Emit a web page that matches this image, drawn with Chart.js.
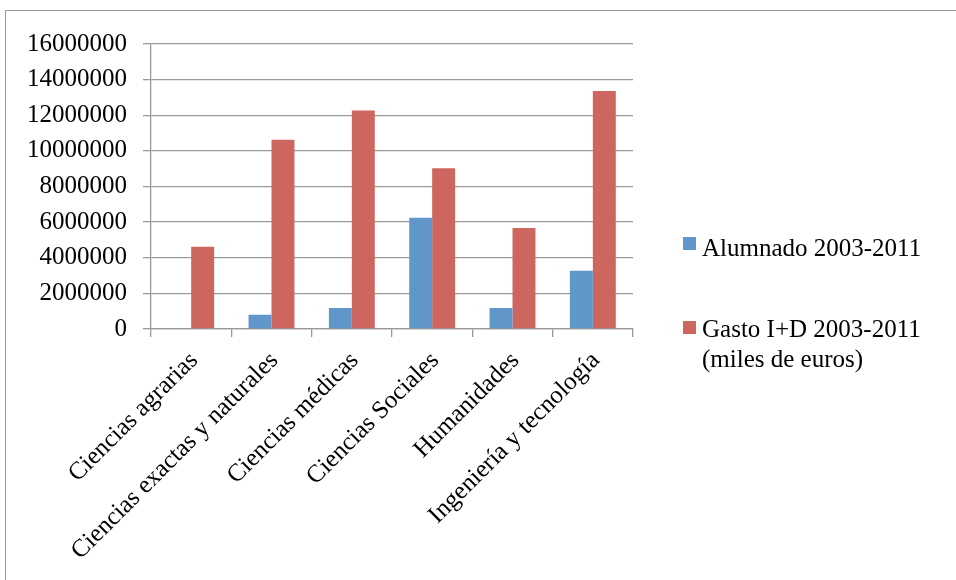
<!DOCTYPE html>
<html><head><meta charset="utf-8">
<script src="https://cdn.jsdelivr.net/npm/chart.js@4"></script>
<style>
html,body{margin:0;padding:0;background:#fff;overflow:hidden;}
#wrap{position:relative;width:956px;height:580px;overflow:hidden;}
#frame{position:absolute;left:5px;top:10px;width:1000px;height:700px;border:1px solid #9a9a9a;}
canvas{position:absolute;left:0;top:0;}
</style></head><body>
<div id="wrap"><div id="frame"></div><canvas id="c" width="956" height="580"></canvas></div>
<script>
const categories = ['Ciencias agrarias', 'Ciencias exactas y naturales', 'Ciencias médicas', 'Ciencias Sociales', 'Humanidades', 'Ingeniería y tecnología'];
const alumnado = [0, 800000, 1180000, 6250000, 1180000, 3270000];
const gasto = [4620000, 10630000, 12260000, 9020000, 5670000, 13360000];
const yTicks = [0, 2000000, 4000000, 6000000, 8000000, 10000000, 12000000, 14000000, 16000000];
const seriesNames = [['Alumnado 2003-2011'], ['Gasto I+D 2003-2011', '(miles de euros)']];

const FONT = "'Liberation Serif', 'DejaVu Serif', serif";
const GRID = '#9a9a9a';

const legendPlugin = {
  id: 'sideLegend',
  afterDraw(chart) {
    const ctx = chart.ctx;
    const items = [{box: 237, base: 256}, {box: 321, base: 337}];
    ctx.save();
    ctx.font = "25px " + FONT;
    ctx.textBaseline = 'alphabetic';
    ctx.textAlign = 'left';
    chart.data.datasets.forEach((ds, i) => {
      const it = items[i];
      ctx.fillStyle = ds.backgroundColor;
      ctx.fillRect(683, it.box, 13, 13);
      ctx.fillStyle = '#000';
      const lines = Array.isArray(ds.label) ? ds.label : [ds.label];
      lines.forEach((t, j) => ctx.fillText(t, 702, it.base + j * 30));
    });
    ctx.restore();
  }
};

new Chart(document.getElementById('c'), {
  type: 'bar',
  data: {
    labels: categories,
    datasets: [
      {label: seriesNames[0], data: alumnado, backgroundColor: '#6096c9', borderWidth: 0},
      {label: seriesNames[1], data: gasto, backgroundColor: '#cd665f', borderWidth: 0}
    ]
  },
  options: {
    responsive: false,
    devicePixelRatio: 1,
    animation: false,
    layout: {padding: {left: 0, top: 44, right: 323, bottom: 0}},
    datasets: {bar: {categoryPercentage: 2 / 3.5, barPercentage: 1}},
    plugins: {legend: {display: false}, tooltip: {enabled: false}},
    scales: {
      x: {
        grid: {display: true, drawOnChartArea: false, drawTicks: true, tickLength: 8, color: GRID, lineWidth: 1.3, offset: true},
        border: {display: true, color: GRID, width: 1.3},
        ticks: {autoSkip: false, maxRotation: 45, minRotation: 45, color: '#000', font: {family: FONT, size: 25}, padding: 9, labelOffset: 3},
        afterFit(s) { s.height = 251; }
      },
      y: {
        min: 0, max: 16000000,
        afterBuildTicks(s) { s.ticks = yTicks.map(v => ({value: v})); },
        grid: {color: GRID, lineWidth: 1.3, tickLength: 8},
        border: {display: true, color: GRID, width: 1.3},
        ticks: {color: '#000', font: {family: FONT, size: 25}, padding: 16, callback: v => String(v)},
        afterFit(s) { s.width = 151; }
      }
    }
  },
  plugins: [legendPlugin]
});
</script>
</body></html>
